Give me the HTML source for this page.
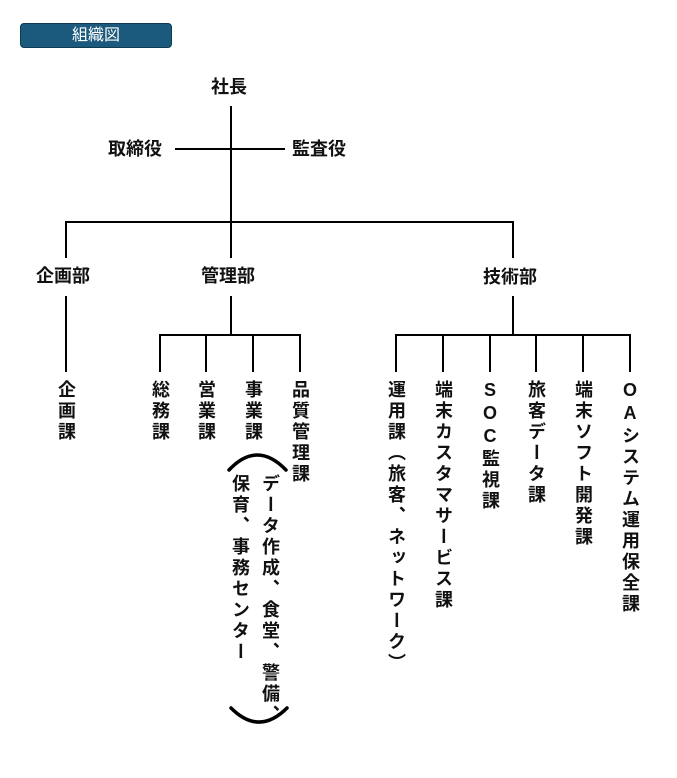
<!DOCTYPE html>
<html><head><meta charset="utf-8"><style>
body{margin:0;width:677px;height:778px;background:#fff;position:relative;overflow:hidden;font-family:"Liberation Sans","Noto Sans CJK JP",sans-serif;}
.h{position:absolute;font-size:18px;font-weight:bold;color:#111;white-space:nowrap;line-height:20px;}
.v{position:absolute;width:24px;writing-mode:vertical-rl;font-size:18px;font-weight:bold;color:#111;letter-spacing:3px;line-height:24px;white-space:nowrap;}
.u{text-orientation:upright;}
</style></head><body>
<div style="position:absolute;left:20px;top:23px;width:150px;height:23px;background:#1b5a7c;border:1px solid #0e3a52;border-radius:4px;color:#fff;font-size:16px;text-align:center;line-height:23px;">組織図</div>
<svg width="677" height="778" style="position:absolute;left:0;top:0">
<g stroke="#000" stroke-width="2" fill="none">
<line x1="231" y1="106" x2="231" y2="258"/>
<line x1="175" y1="149" x2="285" y2="149"/>
<polyline points="66,258 66,222 513,222 513,258"/>
<line x1="66" y1="296" x2="66" y2="372"/>
<line x1="231" y1="296" x2="231" y2="335"/>
<polyline points="160,372 160,335 300,335 300,372"/>
<line x1="206" y1="335" x2="206" y2="372"/>
<line x1="253" y1="335" x2="253" y2="372"/>
<line x1="513" y1="296" x2="513" y2="335"/>
<polyline points="396,372 396,335 630,335 630,372"/>
<line x1="443" y1="335" x2="443" y2="372"/>
<line x1="490" y1="335" x2="490" y2="372"/>
<line x1="536" y1="335" x2="536" y2="372"/>
<line x1="583" y1="335" x2="583" y2="372"/>
</g>
<g stroke="#000" stroke-width="3.5" fill="none" stroke-linecap="round">
<path d="M229,470 Q257,440 286,470"/>
<path d="M231,708 Q259,736 287,708"/>
</g>
</svg>
<div class="h" style="left:211px;top:77px">社長</div>
<div class="h" style="left:108px;top:139px">取締役</div>
<div class="h" style="left:292px;top:139px">監査役</div>
<div class="h" style="left:36px;top:266px">企画部</div>
<div class="h" style="left:201px;top:266px">管理部</div>
<div class="h" style="left:483px;top:267px">技術部</div>
<div class="v" style="left:54px;top:380px">企画課</div>
<div class="v" style="left:148px;top:380px">総務課</div>
<div class="v" style="left:194px;top:380px">営業課</div>
<div class="v" style="left:241px;top:380px">事業課</div>
<div class="v" style="left:288px;top:380px">品質管理課</div>
<div class="v" style="left:258px;top:474px">データ作成、食堂、警備、</div>
<div class="v" style="left:228px;top:474px">保育、事務センター</div>
<div class="v" style="left:384px;top:380px">運用課（旅客、ネットワーク）</div>
<div class="v" style="left:431px;top:380px">端末カスタマサービス課</div>
<div class="v" style="left:478px;top:380px"><span class="u">SOC</span>監視課</div>
<div class="v" style="left:524px;top:380px">旅客データ課</div>
<div class="v" style="left:571px;top:380px">端末ソフト開発課</div>
<div class="v" style="left:618px;top:380px"><span class="u">OA</span>システム運用保全課</div>
</body></html>
